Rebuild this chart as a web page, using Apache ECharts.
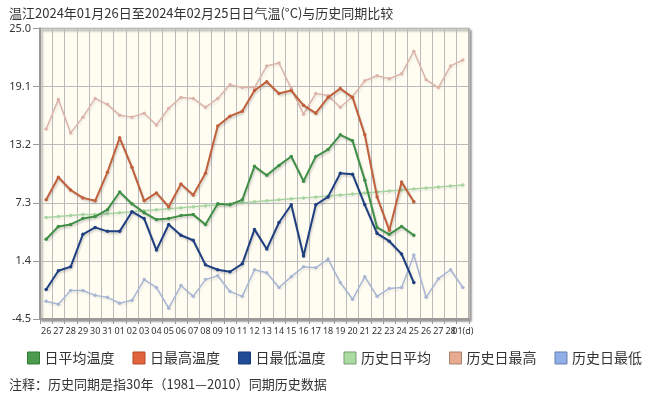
<!DOCTYPE html>
<html>
<head>
<meta charset="utf-8">
<script src="https://cdn.jsdelivr.net/npm/echarts@6/dist/echarts.min.js"></script>
<style>html,body{margin:0;padding:0;background:#fff;}#c{width:647px;height:395px;}</style>
</head>
<body>
<div id="c"></div>
<script>
var titleText = '温江2024年01月26日至2024年02月25日日气温(°C)与历史同期比较';
var noteText = '注释：历史同期是指30年（1981—2010）同期历史数据';
var dayLabels = ['26','27','28','29','30','31','01','02','03','04','05','06','07','08','09','10','11','12','13','14','15','16','17','18','19','20','21','22','23','24','25','26','27','28','01'];
var yTicks = [-4.5, 1.4, 7.3, 13.2, 19.1, 25.0];
var seriesNames = ['日平均温度','日最高温度','日最低温度','历史日平均','历史日最高','历史日最低'];

var dailyAvg = [3.6,4.9,5.1,5.7,5.9,6.6,8.4,7.2,6.3,5.6,5.7,6.0,6.1,5.1,7.2,7.1,7.6,11.0,10.1,11.1,12.0,9.5,12.0,12.7,14.2,13.6,9.6,4.8,4.1,4.9,4.0];
var dailyMax = [7.6,9.9,8.6,7.8,7.5,10.4,13.9,10.9,7.5,8.3,6.9,9.2,8.1,10.3,15.1,16.1,16.6,18.7,19.6,18.4,18.7,17.2,16.4,18.0,18.9,18.0,14.2,7.9,4.5,9.4,7.4];
var dailyMin = [-1.5,0.4,0.8,4.1,4.8,4.4,4.4,6.4,5.7,2.5,5.1,4.0,3.5,1.0,0.5,0.3,1.1,4.6,2.6,5.3,7.1,1.9,7.1,7.9,10.3,10.2,7.1,4.2,3.4,2.1,-0.8];
var histAvg = [5.8,5.9,6.0,6.1,6.1,6.2,6.3,6.4,6.5,6.6,6.7,6.8,6.9,7.0,7.1,7.2,7.3,7.4,7.5,7.6,7.7,7.8,7.9,8.0,8.1,8.2,8.3,8.4,8.5,8.6,8.7,8.8,8.9,9.0,9.1];
var histMax = [14.8,17.8,14.4,16.0,17.9,17.3,16.2,16.0,16.4,15.2,16.9,18.0,17.9,17.0,17.9,19.3,19.0,19.0,21.2,21.5,18.9,16.3,18.4,18.2,17.0,18.1,19.7,20.2,19.9,20.4,22.7,19.8,19.0,21.2,21.8];
var histMin = [-2.7,-3.0,-1.6,-1.6,-2.1,-2.3,-2.9,-2.6,-0.5,-1.3,-3.4,-1.1,-2.2,-0.5,-0.1,-1.7,-2.2,0.5,0.2,-1.3,-0.2,0.8,0.7,1.6,-0.8,-2.5,-0.2,-2.2,-1.4,-1.3,2.0,-2.3,-0.4,0.5,-1.3];

var lineColors = ['#3f8f47','#c0603c','#1f3f80','#a8d4a0','#dcb4aa','#a8b6d4'];
var legendFill = ['#4c9a4c','#e0643c','#1f4c94','#a8dca0','#e8aa90','#90aee8'];
var legendBorder = ['#2f7a35','#b84a28','#163a78','#7a9a74','#a88070','#6880a8'];
var dataSets = [dailyAvg, dailyMax, dailyMin, histAvg, histMax, histMin];

var chart = echarts.init(document.getElementById('c'), null, {renderer:'canvas'});
var series = [];
[3,4,5,0,1,2].forEach(function(k){
  var isHist = k >= 3;
  series.push({
    name: seriesNames[k],
    type: 'line',
    data: dataSets[k],
    symbol: 'circle',
    symbolSize: 3.5,
    showSymbol: true,
    animation: false,
    lineStyle: {
      color: lineColors[k],
      width: isHist ? 1.5 : 2,
      shadowColor: isHist ? 'rgba(0,0,0,0.08)' : 'rgba(0,0,0,0.18)',
      shadowBlur: 2,
      shadowOffsetX: 1,
      shadowOffsetY: 2
    },
    itemStyle: { color: lineColors[k] },
    emphasis: { disabled: true },
    z: isHist ? 2 : 3
  });
});

chart.setOption({
  animation: false,
  title: [
    { text: titleText, left: 4, top: 2, textStyle: { fontSize: 13, fontWeight: 'normal', color: '#333', fontFamily: 'Noto Sans CJK SC' } },
    { text: noteText, left: 4, top: 373, textStyle: { fontSize: 13, fontWeight: 'normal', color: '#333', fontFamily: 'Noto Sans CJK SC' } }
  ],
  legend: {
    data: seriesNames.map(function(n, i){
      return { name: n, icon: 'rect', itemStyle: { color: legendFill[i], borderColor: legendBorder[i], borderWidth: 1 } };
    }),
    left: 22, top: 346, width: 625,
    itemWidth: 12, itemHeight: 12, itemGap: 18,
    textStyle: { fontSize: 14, color: '#333', fontFamily: 'Noto Sans CJK SC' },
    selectedMode: false
  },
  grid: {
    left: 40, top: 28.5, right: 178, bottom: 76,
    show: true, backgroundColor: '#fffdf2', borderColor: '#999', borderWidth: 1.5,
    shadowColor: 'rgba(0,0,0,0.35)', shadowBlur: 2, shadowOffsetX: 2, shadowOffsetY: 2
  },
  xAxis: {
    type: 'category',
    boundaryGap: true,
    data: dayLabels,
    axisLine: { onZero: false, lineStyle: { color: '#999', width: 2 } },
    axisTick: { show: true, length: 5, lineStyle: { color: '#999' } },
    axisLabel: {
      interval: 0, fontSize: 9, color: '#333', margin: 8, fontFamily: 'Noto Sans',
      formatter: function(v, i){ return i === dayLabels.length - 1 ? v + '(d)' : v; }
    },
    splitLine: { show: true, lineStyle: { color: '#bbb', width: 1 } }
  },
  yAxis: {
    type: 'value',
    min: -4.5, max: 25,
    axisLine: { show: true, lineStyle: { color: '#999', width: 2 } },
    axisTick: { show: true, length: 7, lineStyle: { color: '#999' }, customValues: yTicks },
    axisLabel: { fontSize: 11, color: '#333', margin: 9, customValues: yTicks, fontFamily: 'Noto Sans',
      formatter: function(v){ return Number(v).toFixed(1); } },
    splitLine: { show: true, lineStyle: { color: '#bbb', width: 1 } }
  },
  series: series
});
</script>
</body>
</html>
